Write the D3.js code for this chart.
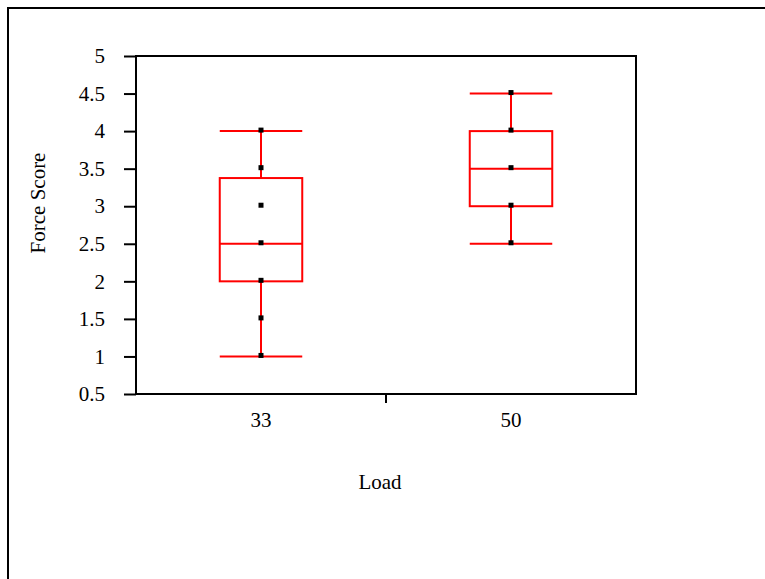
<!DOCTYPE html>
<html>
<head>
<meta charset="utf-8">
<script src="https://cdn.jsdelivr.net/npm/d3@7"></script>
<style>
  html, body { margin: 0; padding: 0; background: #fff; }
  svg { display: block; }
  text { font-family: "Liberation Serif", "Times New Roman", serif; fill: #000; }
</style>
</head>
<body>
<svg id="chart" width="765" height="579"></svg>
<script>
const categories = ["33", "50"];
const whiskerLow = [1, 2.5];
const q1 = [2, 3];
const medians = [2.5, 3.5];
const q3 = [3.375, 4];
const whiskerHigh = [4, 4.5];
const points = [
  [1, 1.5, 2, 2.5, 3, 3.5, 4],
  [2.5, 3, 3.5, 4, 4.5]
];
const yTicks = [0.5, 1, 1.5, 2, 2.5, 3, 3.5, 4, 4.5, 5];
const xTitle = "Load";
const yTitle = "Force Score";

const svg = d3.select("#chart");
const W = 765, H = 579;
const m = { left: 136, top: 56, right: 636, bottom: 394 };
const FS = 21;

// outer frame (top and left edges)
svg.append("path")
  .attr("d", `M8,${H} L8,8 L${W},8`)
  .attr("fill", "none").attr("stroke", "#000").attr("stroke-width", 2);

const x = d3.scaleBand().domain(categories).range([m.left, m.right]);
const y = d3.scaleLinear().domain([0.5, 5]).range([m.bottom, m.top]);

// plot frame
svg.append("rect")
  .attr("x", m.left).attr("y", m.top)
  .attr("width", m.right - m.left).attr("height", m.bottom - m.top)
  .attr("fill", "none").attr("stroke", "#000").attr("stroke-width", 2);

// y axis
const yAxis = svg.append("g")
  .attr("transform", `translate(${m.left},0)`)
  .call(d3.axisLeft(y).tickValues(yTicks).tickFormat(d => String(d)).tickSize(12).tickPadding(19));
yAxis.select(".domain").remove();
yAxis.selectAll("line").attr("stroke", "#000").attr("stroke-width", 2);
yAxis.selectAll("text").style("font-family", '"Liberation Serif", serif').attr("font-size", FS);

// x axis: separator tick between categories + labels
const xg = svg.append("g").attr("transform", `translate(0,${m.bottom})`);
const sep = (x(categories[0]) + x(categories[1]) + x.bandwidth()) / 2;
xg.append("line").attr("x1", sep).attr("x2", sep).attr("y1", 0).attr("y2", 9)
  .attr("stroke", "#000").attr("stroke-width", 2);
xg.selectAll("text.cat").data(categories).join("text")
  .attr("class", "cat")
  .attr("x", d => x(d) + x.bandwidth() / 2)
  .attr("y", 33)
  .attr("text-anchor", "middle")
  .attr("font-size", FS)
  .text(d => d);

// titles
svg.append("text").attr("x", 380).attr("y", 489)
  .attr("text-anchor", "middle").attr("font-size", FS).text(xTitle);
svg.append("text")
  .attr("transform", `translate(45,${(m.top + m.bottom) / 2 - 22}) rotate(-90)`)
  .attr("text-anchor", "middle").attr("font-size", FS).text(yTitle);

// boxes
const boxW = x.bandwidth() * 0.33;
const red = "#ff0000";
const gBox = svg.append("g");
categories.forEach((c, i) => {
  const cx = x(c) + x.bandwidth() / 2;
  const g = gBox.append("g");
  g.append("line").attr("x1", cx).attr("x2", cx).attr("y1", y(whiskerLow[i])).attr("y2", y(q1[i]))
    .attr("stroke", red).attr("stroke-width", 2);
  g.append("line").attr("x1", cx).attr("x2", cx).attr("y1", y(q3[i])).attr("y2", y(whiskerHigh[i]))
    .attr("stroke", red).attr("stroke-width", 2);
  [whiskerLow[i], whiskerHigh[i]].forEach(v => {
    g.append("line").attr("x1", cx - boxW / 2).attr("x2", cx + boxW / 2)
      .attr("y1", y(v)).attr("y2", y(v)).attr("stroke", red).attr("stroke-width", 2);
  });
  g.append("rect").attr("x", cx - boxW / 2).attr("y", y(q3[i]))
    .attr("width", boxW).attr("height", y(q1[i]) - y(q3[i]))
    .attr("fill", "none").attr("stroke", red).attr("stroke-width", 2);
  g.append("line").attr("x1", cx - boxW / 2).attr("x2", cx + boxW / 2)
    .attr("y1", y(medians[i])).attr("y2", y(medians[i])).attr("stroke", red).attr("stroke-width", 2);
  g.selectAll("rect.pt").data(points[i]).join("rect")
    .attr("class", "pt")
    .attr("x", cx - 2.5).attr("y", d => y(d) - 3.5)
    .attr("width", 5).attr("height", 5).attr("fill", "#000");
});
</script>
</body>
</html>
